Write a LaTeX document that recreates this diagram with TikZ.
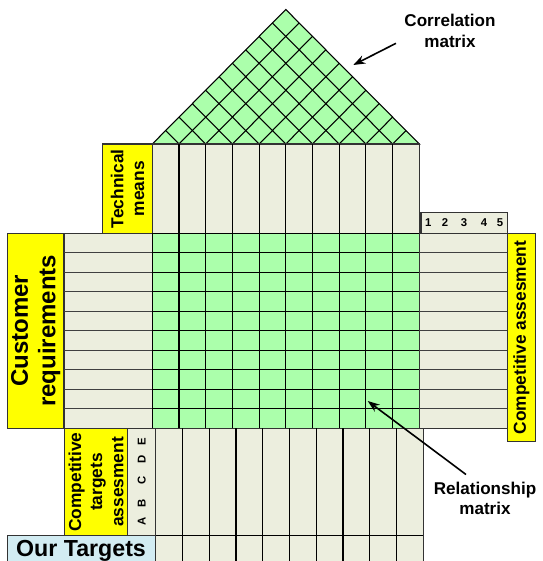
\documentclass[tikz,border=0pt]{standalone}
\usepackage{fontspec}
\setmainfont{Liberation Sans}
\usetikzlibrary{calc,arrows.meta}
\definecolor{relgreen}{RGB}{171,255,171}
\definecolor{panel}{RGB}{236,238,222}
\definecolor{tag}{RGB}{255,255,0}
\definecolor{target}{RGB}{210,236,242}
\begin{document}
\begin{tikzpicture}[x=0.75pt,y=-0.75pt,
  grid/.style={draw=black,line width=0.8pt},
  sep/.style={draw=black!75,line width=0.8pt},
  tagbox/.style={fill=tag,draw=black!80,line width=0.8pt},
  panelbox/.style={fill=panel,draw=black!80,line width=0.8pt},
  caption/.style={font=\bfseries\fontsize{13}{15.5}\selectfont,align=center,inner sep=0pt},
  bigcaption/.style={font=\bfseries\fontsize{18}{20.6}\selectfont,align=center,inner sep=0pt},
  callout/.style={font=\bfseries\fontsize{12.8}{15.5}\selectfont,align=center,inner sep=0pt},
  ticklabel/.style={font=\bfseries\fontsize{8.5}{10}\selectfont,inner sep=0pt},
  pointer/.style={line width=1.2pt,-{Stealth[length=9pt,width=6.5pt]}}
]
\useasboundingbox (0,0) rectangle (543,561);
\clip (0,0) rectangle (543,561);

% main dimensions (left/right edge, column width, top/bottom, row height)
\def\L{152.3}\def\R{419.3}\def\cw{26.7}
\def\T{233.3}\def\B{428.3}\def\rh{19.5}
\def\BL{155.7}\def\bw{26.76}

% ---- roof: correlation matrix ----
\coordinate (B1) at (\L,144);
\coordinate (B2) at (\R,144);
\coordinate (A) at (285.8,9.5);
\filldraw[fill=relgreen,grid] (B1) -- (A) -- (B2) -- cycle;
\foreach \i in {1,...,9}{
  \pgfmathsetmacro\f{\i/10}
  \pgfmathsetmacro\g{1-\i/10}
  \draw[grid] ($(B1)!\f!(B2)$) -- ($(B2)!\g!(A)$);
  \draw[grid] ($(B1)!\f!(B2)$) -- ($(B1)!\f!(A)$);
}

% ---- technical means columns ----
\filldraw[panelbox] (\L,144) rectangle (\R,\T);
\foreach \i in {1,...,9} \draw[grid] (\L+\i*\cw,144) -- (\L+\i*\cw,\T);
\filldraw[tagbox] (102.7,144) rectangle (\L,\T);
\node[caption,rotate=90] (techmeans) at (127.5,188.7) {Technical\\means};

% ---- customer requirements ----
\filldraw[tagbox] (7.3,\T) rectangle (64,\B);
\node[bigcaption,rotate=90] (custreq) at (35.7,330.8) {Customer\\requirements};
\filldraw[panelbox] (64,\T) rectangle (\L,\B);
\foreach \j in {1,...,9} \draw[sep] (64,\T+\j*\rh) -- (\L,\T+\j*\rh);

% ---- relationship matrix ----
\filldraw[fill=relgreen,grid] (\L,\T) rectangle (\R,\B);
\foreach \i in {1,...,9} \draw[grid] (\L+\i*\cw,\T) -- (\L+\i*\cw,\B);
\foreach \j in {1,...,9} \draw[grid] (\L,\T+\j*\rh) -- (\R,\T+\j*\rh);

% ---- competitive assessment ----
\filldraw[panelbox] (\R,\T) rectangle (507.3,\B);
\foreach \j in {1,...,9} \draw[sep] (\R,\T+\j*\rh) -- (507.3,\T+\j*\rh);
\filldraw[panelbox] (421,212.3) rectangle (507.3,\T);
\node[ticklabel] (d1) at (428.3,222.7) {1};
\node[ticklabel] (d2) at (445,222.7) {2};
\node[ticklabel] (d3) at (464,222.7) {3};
\node[ticklabel] (d4) at (484,222.7) {4};
\node[ticklabel] (d5) at (500,222.7) {5};
\filldraw[tagbox] (507.3,\T) rectangle (535.7,441.7);
\node[caption,rotate=90] (compass) at (521.5,337.5) {Competitive assesment};

% ---- competitive targets and our targets ----
\filldraw[tagbox] (64.3,\B) rectangle (127.7,535.5);
\node[caption,font=\bfseries\fontsize{13}{15.8}\selectfont,rotate=90] (comptarg) at (96,482) {Competitive\\targets\\assesment};
\filldraw[panelbox] (127.7,\B) rectangle (\BL,535.5);
\node[ticklabel,rotate=90] (la) at (141.7,521.7) {A};
\node[ticklabel,rotate=90] (lb) at (141.7,503) {B};
\node[ticklabel,rotate=90] (lc) at (141.7,480) {C};
\node[ticklabel,rotate=90] (ld) at (141.7,459) {D};
\node[ticklabel,rotate=90] (le) at (141.7,441.7) {E};
\filldraw[panelbox] (\BL,\B) rectangle (\BL+10*\bw,570);
\foreach \i in {1,...,9} \draw[grid] (\BL+\i*\bw,\B) -- (\BL+\i*\bw,570);
\draw[grid] (\BL,535.5) -- (\BL+10*\bw,535.5);
\filldraw[fill=target,draw=black!80,line width=0.8pt] (7.3,535.5) rectangle (\BL,570);
\node[font=\bfseries\fontsize{17.4}{20}\selectfont,inner sep=0pt,anchor=base] (ourtarg) at (81,556.7) {Our Targets};

% ---- callouts ----
\node[callout,font=\bfseries\fontsize{12.8}{16.3}\selectfont] (corrlabel) at (450,31) {Correlation\\matrix};
\coordinate (corrTail) at (396,43.3);
\coordinate (corrTip) at (353.3,65);
\draw[pointer] (corrTail) -- (corrTip);

\node[callout,font=\bfseries\fontsize{12.8}{15}\selectfont] (rellabel) at (485,498.3) {Relationship\\matrix};
\coordinate (relTail) at (466,474.5);
\coordinate (relTip) at (367.7,401);
\draw[pointer] (relTail) -- (relTip);
\end{tikzpicture}
\end{document}
